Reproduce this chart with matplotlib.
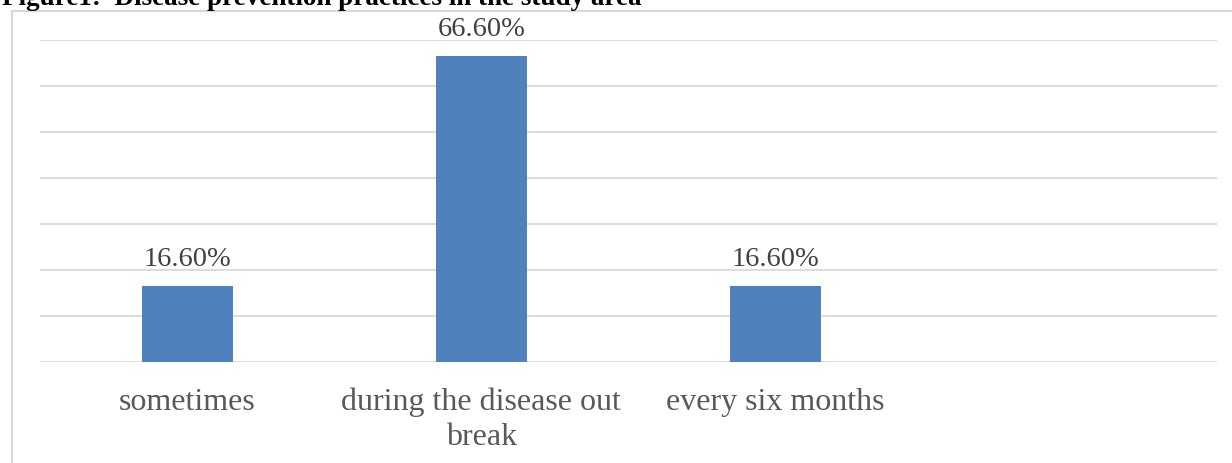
import matplotlib
matplotlib.use("Agg")
import matplotlib.pyplot as plt
from matplotlib.patches import Rectangle

categories = ["sometimes", "during the disease out\nbreak", "every six months", ""]
values = [16.6, 66.6, 16.6, None]
value_labels = ["16.60%", "66.60%", "16.60%", ""]
title = "Figure1:  Disease prevention practices in the study area"

W, H = 1232, 463
fig = plt.figure(figsize=(W / 100, H / 100), dpi=100)
fig.patch.set_facecolor("white")

serif = ["Liberation Serif", "DejaVu Serif"]
text_color = "#595959"
grid_color = "#d9d9d9"
bar_color = "#4f81bd"

# chart frame, running past the right and bottom edges
fig.patches.append(Rectangle((12 / W, -0.05), 1.1, 1 - 11 / H + 0.05,
                             transform=fig.transFigure, fill=False,
                             edgecolor=grid_color, linewidth=1.6, zorder=0))

ax = fig.add_axes([40 / W, 1 - 362 / H, (1217 - 40) / W, 322 / H])
ax.set_facecolor("none")
x = list(range(len(categories)))
bar_x = [i for i, v in zip(x, values) if v is not None]
bar_v = [v for v in values if v is not None]
ax.bar(bar_x, bar_v, width=0.31, color=bar_color, zorder=3)
ax.set_xlim(-0.5, len(categories) - 0.5)
ax.set_ylim(0, 70)
ax.set_yticks(range(0, 71, 10))
ax.yaxis.grid(True, color=grid_color, linewidth=1.3)
ax.set_axisbelow(True)
for s in ax.spines.values():
    s.set_visible(False)
ax.tick_params(axis="y", left=False, labelleft=False)
ax.tick_params(axis="x", bottom=False, pad=15)
ax.set_xticks(x)
ax.set_xticklabels(categories, fontsize=23, family=serif, color=text_color,
                   linespacing=1.25, va="top")

for xi, v, lab in zip(x, values, value_labels):
    if v is None:
        continue
    ax.annotate(lab, (xi, v), xytext=(0, 10), textcoords="offset points",
                ha="center", va="bottom", fontsize=20.5, family=serif,
                color="#404040")

fig.text(2 / W, 1 - 5 / H, title, ha="left", va="baseline", fontsize=19.5,
         family=serif, fontweight="bold", color="black")

fig.savefig("out.png", dpi=100)
